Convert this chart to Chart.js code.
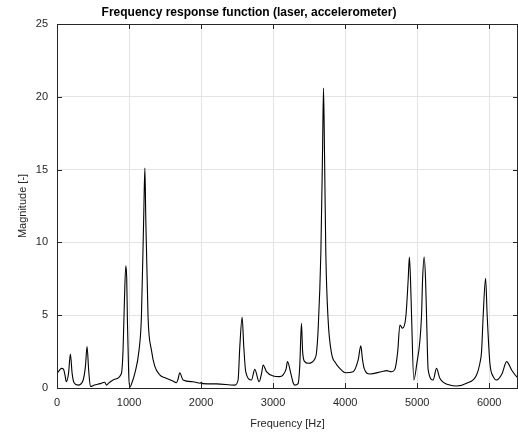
<!DOCTYPE html>
<html>
<head>
<meta charset="utf-8">
<script src="https://cdn.jsdelivr.net/npm/chart.js@4/dist/chart.umd.min.js"></script>
<style>
  html, body { margin: 0; padding: 0; background: #fff; }
  #wrap { width: 518px; height: 438px; position: relative; }
</style>
</head>
<body>
<div id="wrap"><canvas id="frf"></canvas></div>
<script>
// frequency [Hz] and magnitude [-]
const freq = [0, 30, 61, 90, 110, 130, 160, 186, 210, 237, 292, 360, 395, 417, 440, 464, 520, 600, 663, 686, 720, 800, 894, 917, 936, 955, 968, 978, 995, 1010, 1050, 1080, 1139, 1172, 1204, 1220, 1232, 1264, 1311, 1357, 1426, 1500, 1600, 1658, 1680, 1704, 1750, 1889, 1990, 2005, 2020, 2214, 2468, 2514, 2538, 2570, 2593, 2620, 2700, 2746, 2806, 2840, 2862, 2908, 3000, 3093, 3139, 3180, 3200, 3246, 3278, 3301, 3347, 3370, 3394, 3410, 3440, 3486, 3579, 3602, 3625, 3663, 3686, 3700, 3714, 3732, 3764, 3811, 3870, 3926, 4005, 4111, 4181, 4218, 4240, 4264, 4343, 4505, 4575, 4644, 4690, 4730, 4760, 4797, 4843, 4875, 4892, 4908, 4922, 4954, 4990, 5061, 5075, 5097, 5117, 5130, 5153, 5222, 5269, 5315, 5454, 5547, 5686, 5825, 5871, 5894, 5917, 5950, 5972, 6010, 6056, 6103, 6180, 6242, 6311, 6381, 6400];
const magnitude = [1.0, 1.2, 1.35, 1.3, 0.9, 0.43, 1.0, 2.34, 1.0, 0.36, 0.2, 0.5, 1.5, 2.84, 1.2, 0.1, 0.2, 0.3, 0.4, 0.2, 0.35, 0.6, 1.0, 2.6, 6.0, 8.4, 7.5, 4.5, 1.0, 0.05, 0.5, 1.0, 2.6, 4.9, 11.8, 15.1, 11.8, 4.9, 2.6, 1.5, 0.9, 0.7, 0.5, 0.37, 0.6, 1.05, 0.55, 0.43, 0.33, 0.4, 0.3, 0.28, 0.2, 0.55, 2.84, 4.86, 2.84, 1.12, 0.55, 1.28, 0.43, 1.0, 1.58, 1.12, 0.83, 0.78, 0.9, 1.3, 1.81, 1.0, 0.36, 0.2, 0.3, 1.5, 4.45, 2.5, 1.81, 1.7, 2.0, 2.4, 4.0, 9.26, 16.1, 20.6, 16.1, 9.26, 4.68, 2.39, 1.7, 1.35, 1.05, 1.12, 1.93, 2.89, 2.0, 1.35, 0.96, 1.12, 1.19, 1.12, 1.28, 2.5, 4.33, 4.1, 4.9, 7.4, 9.0, 7.4, 5.0, 0.55, 1.5, 5.0, 7.4, 9.0, 7.4, 5.0, 1.24, 0.55, 1.35, 0.67, 0.2, 0.14, 0.32, 0.9, 1.7, 2.5, 5.0, 7.54, 5.0, 1.7, 0.78, 0.55, 1.0, 1.81, 1.24, 0.78, 0.7];
const xTicks = [0, 1000, 2000, 3000, 4000, 5000, 6000];
const yTicks = [0, 5, 10, 15, 20, 25];
const titleText = 'Frequency response function (laser, accelerometer)';

const TEXT = '#262626';
const FONT = 'Arial, "Liberation Sans", Helvetica, sans-serif';

// box + inward tick marks + title, matlab style
const boxPlugin = {
    id: 'box',
    afterDatasetsDraw(chart) {
        const { ctx, chartArea: a, scales } = chart;
        ctx.save();
        ctx.strokeStyle = TEXT;
        ctx.lineWidth = 1;
        ctx.strokeRect(a.left + 0.5, a.top + 0.5, a.right - a.left - 1, a.bottom - a.top);
        ctx.beginPath();
        xTicks.forEach(v => {
            const x = Math.round(scales.x.getPixelForValue(v)) + 0.5;
            ctx.moveTo(x, a.bottom); ctx.lineTo(x, a.bottom - 5);
            ctx.moveTo(x, a.top); ctx.lineTo(x, a.top + 5);
        });
        yTicks.forEach(v => {
            const y = Math.round(scales.y.getPixelForValue(v)) + 0.5;
            ctx.moveTo(a.left, y); ctx.lineTo(a.left + 5, y);
            ctx.moveTo(a.right, y); ctx.lineTo(a.right - 5, y);
        });
        ctx.stroke();

        // title sits a bit left of centre in the original
        ctx.fillStyle = '#000';
        ctx.font = 'bold 12px ' + FONT;
        ctx.textAlign = 'center';
        ctx.textBaseline = 'middle';
        ctx.fillText(titleText, 249, 13);
        ctx.restore();
    }
};

new Chart(document.getElementById('frf'), {
    type: 'line',
    data: {
        datasets: [{
            data: freq.map((f, i) => ({ x: f, y: magnitude[i] })),
            borderColor: '#000',
            borderWidth: 1.1,
            pointRadius: 0,
            fill: false,
            cubicInterpolationMode: 'monotone'
        }]
    },
    options: {
        responsive: true,
        maintainAspectRatio: false,
        animation: false,
        layout: { padding: { top: 24, right: 0, bottom: 0, left: 0 } },
        plugins: {
            legend: { display: false },
            tooltip: { enabled: false },
            title: { display: false }
        },
        scales: {
            x: {
                type: 'linear',
                min: 0, max: 6400,
                afterBuildTicks: s => { s.ticks = xTicks.map(v => ({ value: v })); },
                afterFit: s => { s.height = 50; },
                ticks: { color: TEXT, font: { family: FONT, size: 11 }, padding: 8, maxRotation: 0, callback: v => String(v) },
                grid: { color: '#e3e3e3', drawTicks: false },
                border: { display: false },
                title: { display: true, text: 'Frequency [Hz]', color: TEXT, font: { family: FONT, size: 11 }, padding: { top: 4, bottom: 7 } }
            },
            y: {
                min: 0, max: 25,
                afterBuildTicks: s => { s.ticks = yTicks.map(v => ({ value: v })); },
                afterFit: s => { s.width = 57; },
                ticks: { color: TEXT, font: { family: FONT, size: 11 }, padding: 9, callback: v => String(v) },
                grid: { color: '#e3e3e3', drawTicks: false },
                border: { display: false },
                title: { display: true, text: 'Magnitude [-]', color: TEXT, font: { family: FONT, size: 11 }, padding: { top: 16, bottom: 0 } }
            }
        }
    },
    plugins: [boxPlugin]
});
</script>
</body>
</html>
